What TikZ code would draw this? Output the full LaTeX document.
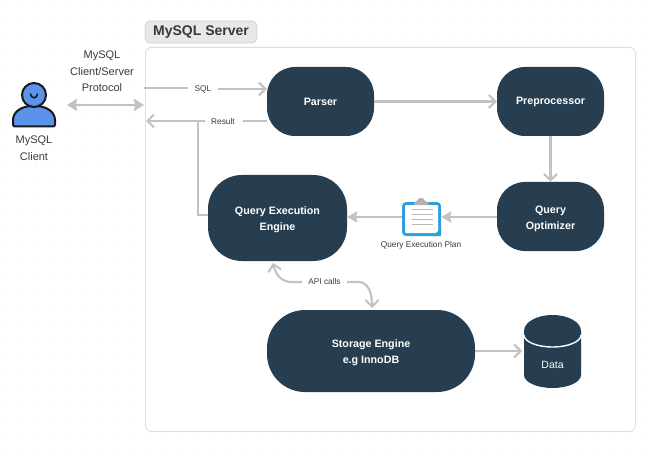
\documentclass[tikz,border=0pt]{standalone}
\usepackage{fontspec}
\setmainfont{Liberation Sans}
\usetikzlibrary{arrows.meta,calc}
\definecolor{navy}{HTML}{263E50}
\definecolor{linegray}{HTML}{C2C2C2}
\definecolor{txt}{HTML}{3A3A3A}
\definecolor{personblue}{HTML}{5B93EA}
\definecolor{planblue}{HTML}{2F9FE0}
\newcommand{\firstline}{\rule{0pt}{11.5pt}}
\tikzset{
  x=1pt,y=-1pt,
  proc/.style={fill=navy,text=white,font=\bfseries\fontsize{10.7}{16}\selectfont,align=center,inner sep=0pt,minimum width=#1},
  lab/.style={text=txt,font=\fontsize{11}{16.5}\selectfont,align=center,inner sep=0pt},
  small/.style={text=txt,font=\fontsize{8.3}{9}\selectfont,inner sep=0pt},
  link/.style={draw=linegray,line width=2.1pt},
  openarr/.style={link,-{Straight Barb[length=6.5pt,width=13pt,line width=2.1pt]}},
  solidarr/.style={link,-{Stealth[length=10pt,width=11pt,inset=1pt]}},
}
\begin{document}
\begin{tikzpicture}
\useasboundingbox (0,0) rectangle (658,465);
\fill[white] (0,0) rectangle (658,465);
\foreach \i in {0,...,41}{\foreach \j in {0,...,29}{
  \fill[black!11] ({5+16*\i},{5+16*\j}) circle (0.55);
}}
% panel
\node[draw=black!13,fill=white,rounded corners=6pt,line width=0.9pt,minimum width=490pt,minimum height=384pt,inner sep=0pt,anchor=north west] (panel) at (145,47) {};
\node[draw=black!18,fill=black!9,rounded corners=5pt,line width=0.7pt,minimum width=112pt,minimum height=22pt,inner sep=0pt,text=black!78,font=\bfseries\fontsize{14}{14}\selectfont] (title) at (201,32) {MySQL Server};
% process nodes
\node[proc=107pt,minimum height=69pt,rounded corners=28pt] (parser) at (320.5,101.5) {Parser};
\node[proc=107pt,minimum height=69pt,rounded corners=28pt] (pre) at (550.5,101.5) {Preprocessor};
\node[proc=107pt,minimum height=69pt,rounded corners=28pt] (opt) at (550.5,216.5) {\firstline Query\\Optimizer};
\node[proc=139pt,minimum height=86pt,rounded corners=34pt] (qee) at (277.5,218) {\firstline Query Execution\\Engine};
\node[proc=208pt,minimum height=82pt,rounded corners=38pt] (store) at (371,351) {\firstline Storage Engine\\e.g InnoDB};
% data cylinder
\fill[navy] (524,331) -- (524,375) arc[start angle=180,end angle=0,x radius=28.5,y radius=13] -- (581,331) -- cycle;
\fill[navy] (552.5,331) ellipse (28.5 and 16);
\draw[white,line width=1.4pt] (524,335) arc[start angle=180,end angle=0,x radius=28.5,y radius=12];
\node[inner sep=0pt,text=white,font=\fontsize{10.5}{12}\selectfont] (data) at (552.5,365) {Data};
\coordinate (dataw) at (522,351);
% person
\node[minimum size=0pt,inner sep=0pt] (client) at (34,105) {};
\draw[black!90,fill=personblue,line width=2pt,line join=round,rounded corners=2pt] (13,126.5) -- (13,122) .. controls (13,111) and (23,106) .. (34,106) .. controls (45,106) and (55,111) .. (55,122) -- (55,126.5) -- cycle;
\draw[black!90,fill=personblue,line width=2pt] (34,95) circle (12);
\draw[black!90,line width=1.6pt,line cap=round] (30.5,94) .. controls (31,99) and (37,99) .. (37.5,94);
\node[lab] (clientlab) at (34,148) {MySQL\\Client};
% protocol
\node[lab] (proto) at (102,71.5) {MySQL\\Client/Server\\Protocol};
\coordinate (pl) at (67,105);
\coordinate (pr) at (144,105);
\draw[link,{Stealth[length=10pt,width=12pt,inset=1pt]}-{Stealth[length=10pt,width=12pt,inset=1pt]}] (pl) -- (pr);
% SQL
\coordinate (sqlstart) at (144,88);
\coordinate (sqlmid) at (188,88);
\coordinate (sqlafter) at (218,89);
\node[small] (sql) at (203,89) {SQL};
\draw[link] (sqlstart) -- (sqlmid);
\draw[openarr] (sqlafter) -- (parser.west |- sqlafter);
% Result
\node[small] (res) at (223,121.5) {Result};
\coordinate (resend) at (146,121);
\coordinate (joint) at (198,121);
\coordinate (resa) at (243,121);
\coordinate (resb) at (205,121);
\coordinate (qeey) at (198,215);
\draw[link] (parser.west |- resa) -- (resa);
\draw[openarr] (resb) -- (resend);
\draw[link] (qee.west |- qeey) -- (qeey) -- (joint);
% main flow
\draw[openarr] (parser) -- (pre);
\draw[openarr] (pre) -- (opt);
% plan
\fill[planblue,rounded corners=4pt] (402,202) rectangle (441,236);
\fill[white,rounded corners=1pt] (405,205) rectangle (438,233);
\fill[black!30,rounded corners=1pt] (414,203) -- (417,201) -- (419,198) -- (423,198) -- (425,201) -- (429,203) -- (429,205) -- (414,205) -- cycle;
\foreach \y in {209,214,219,224}{\draw[black!28,line width=1pt] (412,\y) -- (433,\y);}
\fill[planblue] (441,228) -- (433,236) -- (441,236) -- cycle;
\node[inner sep=0pt,minimum width=39pt,minimum height=34pt] (plan) at (421.5,219) {};
\node[small] (planlab) at (421,245) {Query Execution Plan};
\coordinate (py) at (0,217);
\draw[solidarr] (opt.west |- py) -- (plan.east |- py);
\draw[solidarr] (plan.west |- py) -- (qee.east |- py);
% API
\node[small] (api) at (324.5,282) {API calls};
\draw[openarr] (302,282) -- (292,282) .. controls (282,282) and (276,276) .. (273,263);
\draw[openarr] (347,282) -- (358,282) .. controls (368,282) and (372,292) .. (372,308);
% store to data
\draw[openarr] (store.east |- dataw) -- (dataw);
\end{tikzpicture}
\end{document}
